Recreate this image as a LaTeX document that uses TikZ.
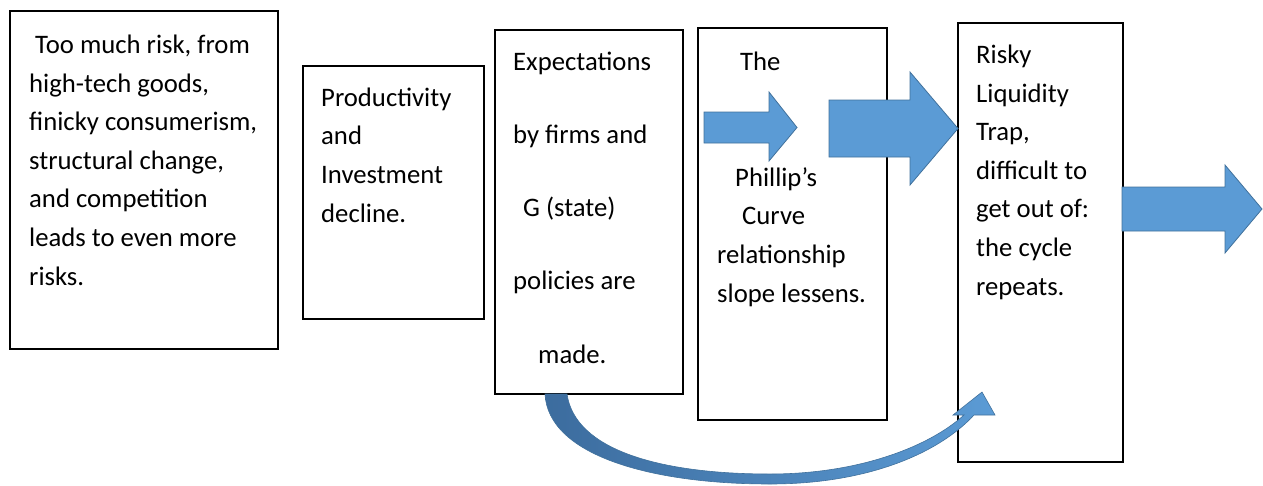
\documentclass[tikz,border=0pt]{standalone}
\usepackage{fontspec}
\setmainfont{Carlito}

\definecolor{arrowblue}{RGB}{91,155,213}
\definecolor{arrowedge}{RGB}{65,113,156}
\definecolor{arrowdark}{RGB}{60,108,158}

\tikzset{
	box/.style={draw, line width=2pt, anchor=north west, inner sep=0pt},
	txt/.style={anchor=base west, align=left, inner sep=0pt, font=\fontsize{26.7}{38.6}\selectfont},
	blockarrow/.style={fill=arrowblue, draw=arrowedge, line width=0.8pt, line join=miter}
}

\begin{document}
\begin{tikzpicture}[x=1pt,y=-1pt]

	\useasboundingbox (0,0) rectangle (1263,485);

	\node (risk)[box, minimum width=268pt, minimum height=338pt] at (9,10) {};
	\node (prod)[box, minimum width=181pt, minimum height=253pt] at (302,65) {};
	\node (expect)[box, minimum width=188pt, minimum height=364pt] at (494,29) {};
	\node (phillips)[box, minimum width=189pt, minimum height=392pt] at (697,27) {};
	\node (trap)[box, minimum width=165pt, minimum height=439pt] at (957,22) {};

	% text nodes sit on the baseline of their last line
	\node (riskTxt)[txt] at (29,285) {\hspace*{6pt}Too much risk, from\\high-tech goods,\\finicky consumerism,\\structural change,\\and competition\\leads to even more\\risks.};
	\node (prodTxt)[txt] at (321,222) {Productivity\\and\\Investment\\decline.};
	\node (expectTxt)[txt, font=\fontsize{26.7}{73.2}\selectfont] at (513,363) {Expectations\\by firms and\\\hspace*{10pt}G (state)\\policies are\\\hspace*{25pt}made.};
	\node (phillipsTxt)[txt] at (717,302) {\hspace*{23pt}The\\[77pt]\hspace*{18pt}Phillip’s\\\hspace*{25pt}Curve\\relationship\\slope lessens.};
	\node (trapTxt)[txt] at (976,295) {Risky\\Liquidity\\Trap,\\difficult to\\get out of:\\the cycle\\repeats.};

	% block arrows
	\draw [blockarrow] (704,112) -- (769,112) -- (769,92) -- (797,127.5) -- (769,161) -- (769,143) -- (704,143) -- cycle;
	\draw [blockarrow] (829,100) -- (910,100) -- (910,72) -- (958,128.5) -- (910,185) -- (910,157) -- (829,157) -- cycle;
	\draw [blockarrow] (1122,187) -- (1225,187) -- (1225,165) -- (1262,209) -- (1225,253) -- (1225,231) -- (1122,231) -- cycle;

	% curved arrow from expectations back round to the trap
	\path [draw=arrowedge, line width=0.6pt, left color=arrowdark, right color=arrowblue]
		(545,394) .. controls (548,455) and (650,484) .. (770,484)
		.. controls (870,484) and (940,452) .. (974,415)
		-- (995,415) -- (982,392) -- (953,415) -- (964,415)
		.. controls (930,446) and (860,474) .. (770,474)
		.. controls (660,474) and (575,450) .. (567,394) -- cycle;

\end{tikzpicture}
\end{document}
